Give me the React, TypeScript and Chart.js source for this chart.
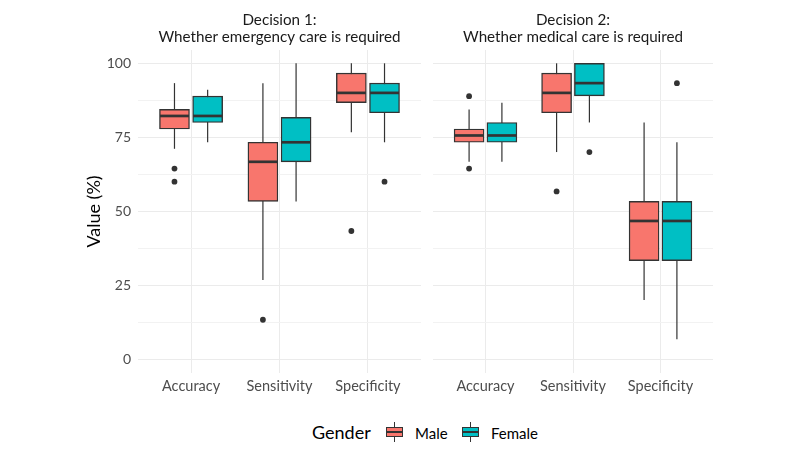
import React, { useEffect, useRef } from 'react';
import { Chart, registerables } from 'chart.js';

Chart.register(...registerables);

const categories = ['Accuracy', 'Sensitivity', 'Specificity'];
const groupLabels = ['Male', 'Female'];
const legendTitle = 'Gender';
const yAxisTitle = 'Value (%)';
const panel1Title = ['Decision 1:', 'Whether emergency care is required'];
const panel2Title = ['Decision 2:', 'Whether medical care is required'];
const yTickValues = [0, 12.5, 25, 37.5, 50, 62.5, 75, 87.5, 100];

// per category: [lower whisker, Q1, median, Q3, upper whisker]
const d1Male = [
  [71.1, 77.8, 82.2, 84.4, 93.3],
  [26.7, 53.3, 66.7, 73.3, 93.3],
  [76.7, 86.7, 90.0, 96.7, 100],
];
const d1Female = [
  [73.3, 80.0, 82.2, 88.9, 91.1],
  [53.3, 66.7, 73.3, 81.7, 100],
  [73.3, 83.3, 90.0, 93.3, 100],
];
const d1MaleOutliers = [[64.4, 60.0], [13.3], [43.3]];
const d1FemaleOutliers = [[], [], [60.0]];

const d2Male = [
  [66.7, 73.3, 75.6, 77.8, 84.4],
  [70.0, 83.3, 90.0, 96.7, 100],
  [20.0, 33.3, 46.7, 53.3, 80.0],
];
const d2Female = [
  [66.7, 73.3, 75.6, 80.0, 86.7],
  [80.0, 89.0, 93.3, 100, 100],
  [6.7, 33.3, 46.7, 53.3, 73.3],
];
const d2MaleOutliers = [[88.9, 64.4], [56.7], []];
const d2FemaleOutliers = [[], [70.0], [93.3]];

const MALE = '#F8766D';
const FEMALE = '#00BFC4';
const LINE = '#333333';
const FONT = 'Lato';

const boxPlugin = {
  id: 'boxWhiskers',
  beforeDatasetsDraw(chart: any) {
    const ctx = chart.ctx;
    const y = chart.scales.y;
    chart.data.datasets.forEach((ds: any, di: number) => {
      if (!ds.stats) return;
      const meta = chart.getDatasetMeta(di);
      meta.data.forEach((el: any, i: number) => {
        const s = ds.stats[i];
        ctx.save();
        ctx.strokeStyle = LINE;
        ctx.lineWidth = 1.2;
        ctx.beginPath();
        ctx.moveTo(el.x, y.getPixelForValue(s[0]));
        ctx.lineTo(el.x, y.getPixelForValue(s[4]));
        ctx.stroke();
        ctx.restore();
      });
    });
  },
  afterDatasetsDraw(chart: any) {
    const ctx = chart.ctx;
    const y = chart.scales.y;
    chart.data.datasets.forEach((ds: any, di: number) => {
      if (!ds.stats) return;
      const meta = chart.getDatasetMeta(di);
      meta.data.forEach((el: any, i: number) => {
        const s = ds.stats[i];
        const py = y.getPixelForValue(s[2]);
        ctx.save();
        ctx.strokeStyle = LINE;
        ctx.lineWidth = 2.7;
        ctx.beginPath();
        ctx.moveTo(el.x - el.width / 2 + 0.5, py);
        ctx.lineTo(el.x + el.width / 2 - 0.5, py);
        ctx.stroke();
        ctx.restore();
      });
    });
  },
};

function buildConfig(
  male: number[][],
  female: number[][],
  maleOut: number[][],
  femaleOut: number[][],
  title: string[],
  showY: boolean,
  padRight: number
): any {
  const offset = 0.1875;
  const boxDs = (label: string, stats: number[][], color: string, sign: number) => ({
    type: 'bar',
    label,
    stats,
    data: stats.map((s, i) => ({ x: i + 1 + sign * offset, y: [s[1], s[3]] })),
    backgroundColor: color,
    borderColor: LINE,
    borderWidth: 1.4,
    borderSkipped: false,
    grouped: false,
    barPercentage: 1,
    categoryPercentage: 1,
    maxBarThickness: 30,
    order: 2,
  });
  const outDs = (label: string, outs: number[][], sign: number) => ({
    type: 'scatter',
    label,
    data: outs.flatMap((arr, i) => arr.map((v) => ({ x: i + 1 + sign * offset, y: v }))),
    pointRadius: 2.9,
    pointBackgroundColor: LINE,
    pointBorderWidth: 0,
    order: 1,
  });
  return {
    type: 'bar',
    data: {
      datasets: [
        boxDs(groupLabels[0], male, MALE, -1),
        boxDs(groupLabels[1], female, FEMALE, 1),
        outDs(groupLabels[0] + ' outliers', maleOut, -1),
        outDs(groupLabels[1] + ' outliers', femaleOut, 1),
      ],
    },
    options: {
      animation: false,
      responsive: false,
      maintainAspectRatio: false,
      layout: { padding: { left: 0, right: padRight, top: 0, bottom: 0 } },
      plugins: {
        legend: { display: false },
        tooltip: { enabled: false },
        title: {
          display: true,
          fullSize: false,
          text: title,
          color: '#1A1A1A',
          font: { family: FONT, size: 15.2, weight: 'normal', lineHeight: '17px' },
          padding: { top: 11.5, bottom: 4.5 },
        },
      },
      scales: {
        x: {
          type: 'linear',
          offset: false,
          min: 0.4,
          max: 3.6,
          afterBuildTicks: (s: any) => {
            s.ticks = [1, 2, 3].map((v) => ({ value: v }));
          },
          afterFit: (s: any) => {
            s.height = 37;
          },
          ticks: {
            callback: (v: number) => categories[Math.round(v) - 1],
            color: '#4D4D4D',
            font: { family: FONT, size: 14.5 },
            padding: 4.5,
            autoSkip: false,
            maxRotation: 0,
          },
          grid: { color: '#EBEBEB', lineWidth: 1, drawTicks: false, offset: false },
          border: { display: false },
        },
        y: {
          type: 'linear',
          min: -4.7,
          max: 104.5,
          afterBuildTicks: (s: any) => {
            s.ticks = yTickValues.map((v) => ({ value: v }));
          },
          afterFit: (s: any) => {
            s.width = showY ? 138 : 0;
          },
          ticks: {
            display: showY,
            callback: (v: number) => (v % 25 === 0 ? String(v) : ''),
            color: '#4D4D4D',
            font: { family: FONT, size: 14 },
            padding: 7,
            autoSkip: false,
          },
          grid: {
            drawTicks: false,
            color: (c: any) => (c.tick && c.tick.value % 25 === 0 ? '#EBEBEB' : '#F2F2F2'),
            lineWidth: 1,
          },
          border: { display: false },
          title: {
            display: showY,
            text: yAxisTitle,
            color: '#000000',
            font: { family: FONT, size: 18 },
            padding: { top: 83, bottom: 0 },
          },
        },
      },
    },
    plugins: [boxPlugin],
  };
}

function Panel(props: { config: any; left: number; width: number; height: number }) {
  const ref = useRef<HTMLCanvasElement | null>(null);
  useEffect(() => {
    if (!ref.current) return;
    const chart = new Chart(ref.current, props.config);
    return () => chart.destroy();
  }, []);
  return (
    <canvas
      ref={ref}
      width={props.width}
      height={props.height}
      style={{ position: 'absolute', left: props.left, top: 0, width: props.width, height: props.height }}
    />
  );
}

function LegendKey(props: { color: string; left: number }) {
  return (
    <div style={{ position: 'absolute', left: props.left, top: 422, width: 17, height: 20 }}>
      <div style={{ position: 'absolute', left: 8, top: 0, width: 1, height: 20, background: LINE }} />
      <div
        style={{
          position: 'absolute',
          left: 0,
          top: 5,
          width: 17,
          height: 10,
          boxSizing: 'border-box',
          border: '1px solid ' + LINE,
          background: props.color,
        }}
      />
      <div style={{ position: 'absolute', left: 1, top: 9, width: 15, height: 2, background: LINE }} />
    </div>
  );
}

export default function App() {
  const cfg1 = buildConfig(d1Male, d1Female, d1MaleOutliers, d1FemaleOutliers, panel1Title, true, 3);
  const cfg2 = buildConfig(d2Male, d2Female, d2MaleOutliers, d2FemaleOutliers, panel2Title, false, 87);
  const textStyle = (left: number, size: number): React.CSSProperties => ({
    position: 'absolute',
    left,
    top: 433 - size * 0.6,
    fontFamily: FONT,
    fontSize: size,
    lineHeight: size * 1.2 + 'px',
    color: '#000000',
    whiteSpace: 'nowrap',
  });
  return (
    <div style={{ position: 'fixed', left: 0, top: 0, width: 800, height: 457, background: '#FFFFFF', overflow: 'hidden' }}>
      <Panel config={cfg1} left={0} width={425} height={410} />
      <Panel config={cfg2} left={429} width={371} height={410} />
      <div style={textStyle(312, 18)}>{legendTitle}</div>
      <LegendKey color={MALE} left={386} />
      <div style={textStyle(415, 15)}>{groupLabels[0]}</div>
      <LegendKey color={FEMALE} left={462} />
      <div style={textStyle(491, 15)}>{groupLabels[1]}</div>
    </div>
  );
}
